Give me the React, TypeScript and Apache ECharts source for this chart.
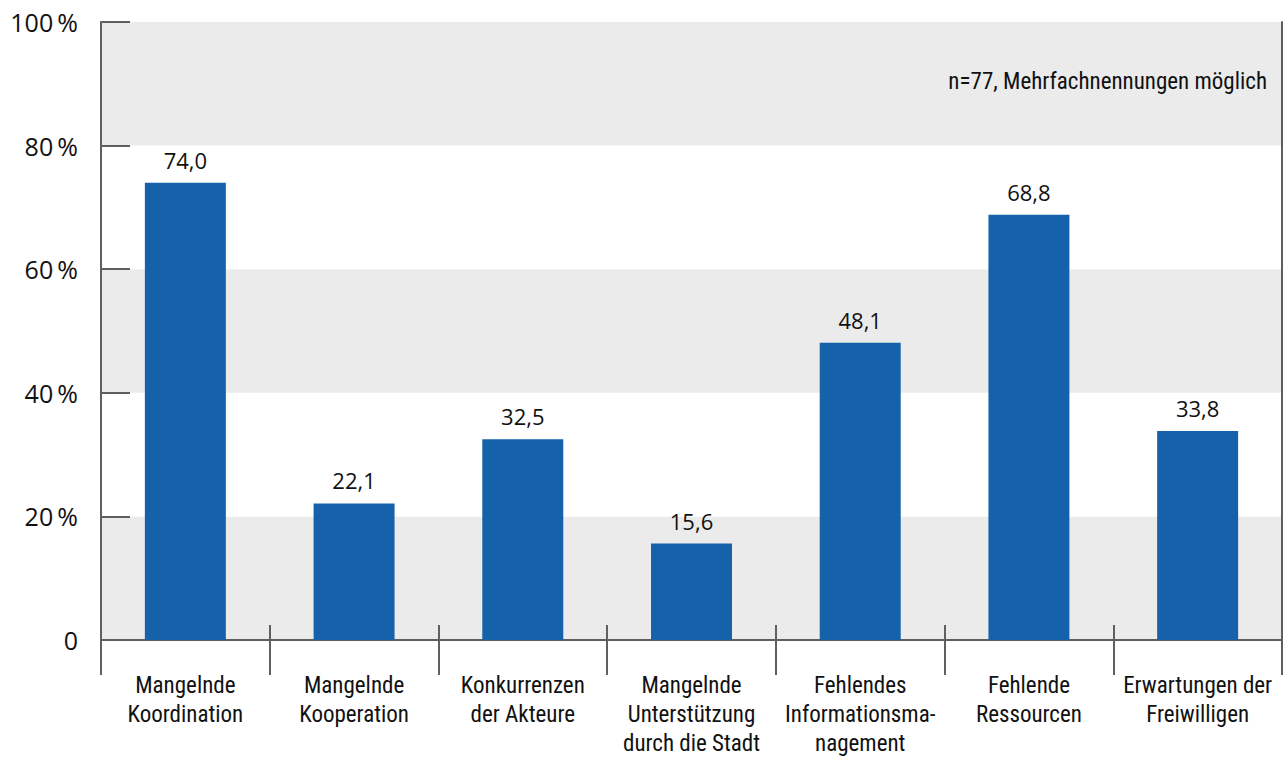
import React, { useEffect, useRef } from "react";
import * as echarts from "echarts";

const categories = [
  "Mangelnde\nKoordination",
  "Mangelnde\nKooperation",
  "Konkurrenzen\nder Akteure",
  "Mangelnde\nUnterstützung\ndurch die Stadt",
  "Fehlendes\nInformationsma-\nnagement",
  "Fehlende\nRessourcen",
  "Erwartungen der\nFreiwilligen",
];
const values = [74.0, 22.1, 32.5, 15.6, 48.1, 68.8, 33.8];
const yTicks = [0, 20, 40, 60, 80, 100];
const note = "n=77, Mehrfachnennungen möglich";

const AXIS = "#5f5f5f";
const BAR = "#1562ab";
const BAND = "#ebebeb";
const TEXT = "#111111";
const REG = "Open Sans";
const COND = "Roboto Condensed";

export default function App() {
  const ref = useRef<HTMLDivElement>(null);
  useEffect(() => {
    document.body.style.margin = "0";
    document.body.style.overflow = "hidden";
    document.documentElement.style.overflow = "hidden";
    if (!ref.current) return;
    const chart = echarts.init(ref.current, null, { renderer: "svg" });
    chart.setOption({
      animation: false,
      backgroundColor: "#ffffff",
      grid: { left: 101, right: 5, top: 22, bottom: 113, containLabel: false },
      xAxis: [
        {
          type: "category",
          data: categories,
          position: "bottom",
          axisLine: { show: true, lineStyle: { color: AXIS, width: 2 } },
          axisTick: { show: true, interval: 0, inside: false, length: 35, lineStyle: { color: AXIS, width: 2 } },
          axisLabel: {
            interval: 0,
            margin: 31,
            color: TEXT,
            fontFamily: COND,
            fontSize: 23,
            lineHeight: 29,
            align: "center",
          },
          splitLine: { show: false },
        },
        {
          type: "category",
          data: categories,
          position: "bottom",
          offset: 0,
          axisLine: { show: false },
          axisTick: { show: true, interval: 0, inside: true, length: 15, lineStyle: { color: AXIS, width: 2 } },
          axisLabel: { show: false },
          splitLine: { show: false },
        },
      ],
      yAxis: [
        {
          type: "value",
          min: 0,
          max: 100,
          interval: 20,
          position: "left",
          axisLine: { show: true, lineStyle: { color: AXIS, width: 2 } },
          axisTick: { show: true, inside: true, length: 29, lineStyle: { color: AXIS, width: 2 } },
          axisLabel: {
            margin: 23,
            color: TEXT,
            fontFamily: REG,
            fontSize: 25,
            formatter: (v: number) => (yTicks.includes(v) && v !== 0 ? v + "\u2009%" : String(v)),
          },
          splitLine: { show: false },
          splitArea: { show: true, areaStyle: { color: [BAND, "#ffffff"] } },
        },
        {
          type: "value",
          min: 0,
          max: 100,
          interval: 20,
          position: "right",
          axisLine: { show: true, lineStyle: { color: AXIS, width: 2 } },
          axisTick: { show: false },
          axisLabel: { show: false },
          splitLine: { show: false },
          splitArea: { show: false },
        },
      ],
      series: [
        {
          type: "bar",
          xAxisIndex: 0,
          yAxisIndex: 0,
          data: values,
          barWidth: "48%",
          itemStyle: { color: BAR },
          label: {
            show: true,
            position: "top",
            distance: 12,
            color: TEXT,
            fontFamily: REG,
            fontSize: 22,
            formatter: (p: any) => Number(p.value).toFixed(1).replace(".", ","),
          },
          z: 3,
        },
      ],
      graphic: [
        {
          type: "text",
          right: 20,
          top: 70,
          z: 10,
          style: {
            text: note,
            fill: TEXT,
            fontFamily: COND,
            fontSize: 23,
          },
        },
      ],
    });
    return () => chart.dispose();
  }, []);
  return <div ref={ref} style={{ width: 1287, height: 758 }} />;
}
